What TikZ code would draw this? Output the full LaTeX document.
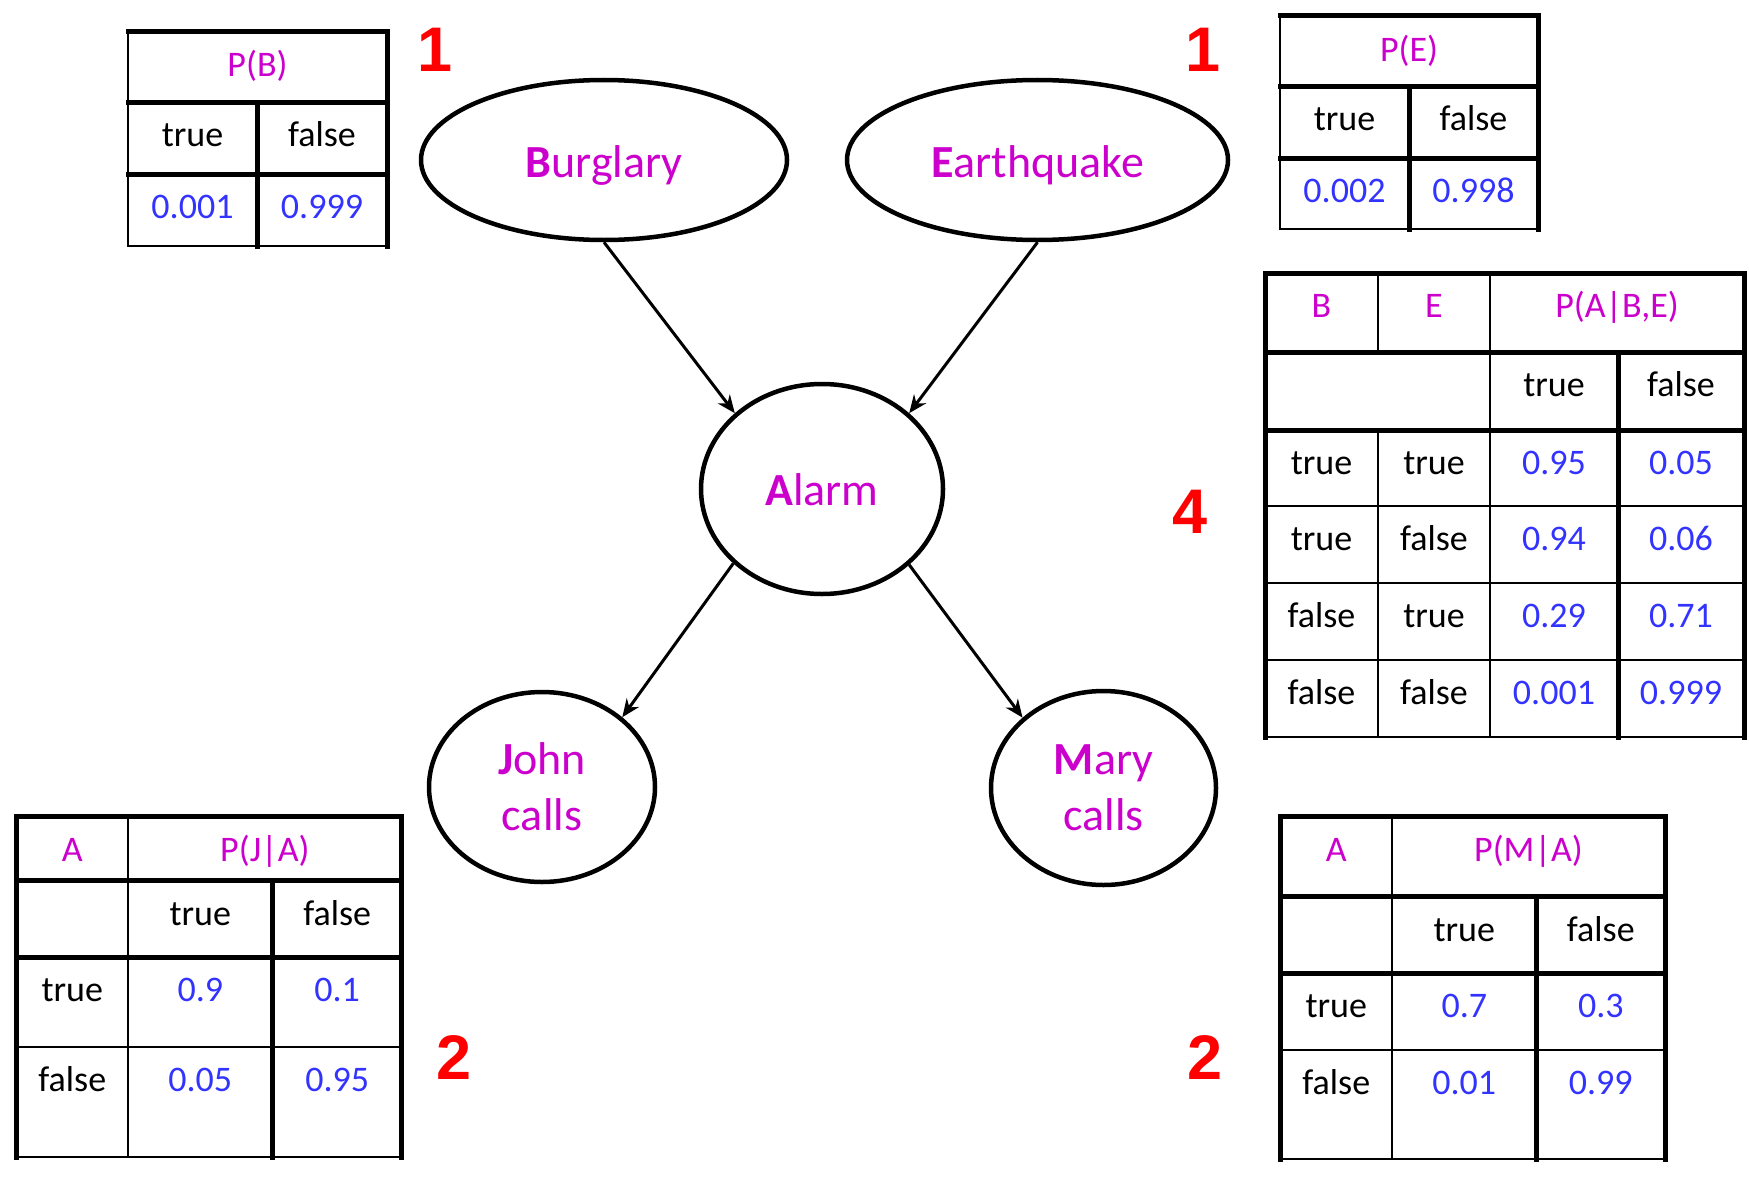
\documentclass[tikz,border=0pt]{standalone}
\usepackage{fontspec}
\setmainfont{Carlito}
\newfontfamily\numfamily{Liberation Sans}
\usetikzlibrary{shapes.geometric,arrows.meta}
\definecolor{varmag}{RGB}{204,0,204}
\definecolor{valblue}{RGB}{51,51,255}
\begin{document}
\begin{tikzpicture}[x=0.5pt,y=-0.5pt,
  heavy/.style={line width=2.5pt,line cap=rect},
  light/.style={line width=1pt},
  var/.style={draw,ellipse,line width=2.25pt,inner sep=0pt,text=varmag,align=center,font=\fontsize{23}{28}\selectfont},
  link/.style={-{Stealth[length=9pt,width=7.5pt]},line width=1.5pt},
  cell/.style={anchor=base,inner sep=0pt,font=\fontsize{18}{22}\selectfont},
  head/.style={cell,text=varmag},
  val/.style={cell,text=valblue},
  nparam/.style={text=red,inner sep=0pt,font=\numfamily\bfseries\fontsize{31.5}{36}\selectfont}]
\useasboundingbox (0,0) rectangle (1749,1177);
% network
\node[var,minimum width=183pt,minimum height=80pt,text height=17pt,text depth=0pt] (burglary) at (604,160) {\textbf{B}urglary};
\node[var,minimum width=190.5pt,minimum height=80pt,text height=17pt,text depth=0pt] (earthquake) at (1037.5,160) {\textbf{E}arthquake};
\node[var,minimum width=121pt,minimum height=105pt,text height=16pt,text depth=0pt] (alarm) at (822,489) {\textbf{A}larm};
\node[var,minimum width=113pt,minimum height=95pt] (john) at (542,787) {\textbf{J}ohn\\calls};
\node[var,minimum width=112.5pt,minimum height=97pt] (mary) at (1103.5,788) {\textbf{M}ary\\calls};
\draw[link] (burglary.south) -- (alarm.139);
\draw[link] (earthquake.south) -- (alarm.41);
\draw[link] (alarm.220) -- (john.41);
\draw[link] (alarm.319) -- (mary.139);
% P(B)
\draw[light] (128,32) rectangle (387,246);
\draw[heavy] (128,32) -- (387,32) -- (387,246);
\draw[heavy] (128,103) -- (387,103) (128,174) -- (387,174) (257,103) -- (257,246);
\node[head] (pb-h) at (257.5,77) {P(B)};
\node[cell] (pb-t) at (192.5,147) {true};
\node[cell] (pb-f) at (322,147) {false};
\node[val] (pb-vt) at (192.5,218) {0.001};
\node[val] (pb-vf) at (322,218) {0.999};
\node[nparam] (pb-n) at (435,50) {1};
% P(E)
\draw[light] (1280,16) rectangle (1538,229);
\draw[heavy] (1280,16) -- (1538,16) -- (1538,229);
\draw[heavy] (1280,87) -- (1538,87) (1280,158) -- (1538,158) (1409,87) -- (1409,229);
\node[head] (pe-h) at (1409,62) {P(E)};
\node[cell] (pe-t) at (1344.5,131) {true};
\node[cell] (pe-f) at (1473.5,131) {false};
\node[val] (pe-vt) at (1344.5,202) {0.002};
\node[val] (pe-vf) at (1473.5,202) {0.998};
\node[nparam] (pe-n) at (1203,50) {1};
% P(A|B,E)
\draw[light] (1265,273) rectangle (1744,737);
\draw[heavy] (1265,737) -- (1265,273) -- (1744,273) -- (1744,737);
\draw[heavy] (1265,352) -- (1744,352) (1265,430) -- (1744,430) (1618,352) -- (1618,737);
\draw[light] (1378,273) -- (1378,352) (1378,430) -- (1378,737) (1490,273) -- (1490,737);
\foreach \y in {506,583,660} \draw[light] (1265,\y) -- (1744,\y);
\node[head] (pa-hb) at (1321.5,317) {B};
\node[head] (pa-he) at (1434,317) {E};
\node[head] (pa-h) at (1617,317) {P(A|B,E)};
\node[cell] (pa-t) at (1554,396) {true};
\node[cell] (pa-f) at (1681,396) {false};
\foreach \b/\e/\pt/\pf [count=\i] in {true/true/0.95/0.05,true/false/0.94/0.06,false/true/0.29/0.71,false/false/0.001/0.999}{
  \node[cell] (pa-b\i) at (1321.5,{474+76.7*(\i-1)}) {\b};
  \node[cell] (pa-e\i) at (1434,{474+76.7*(\i-1)}) {\e};
  \node[val] (pa-vt\i) at (1554,{474+76.7*(\i-1)}) {\pt};
  \node[val] (pa-vf\i) at (1681,{474+76.7*(\i-1)}) {\pf};
}
\node[nparam] (pa-n) at (1190,512) {4};
% P(J|A)
\draw[light] (16.7,816.7) rectangle (401.7,1157);
\draw[heavy] (16.7,1157) -- (16.7,816.7) -- (401.7,816.7) -- (401.7,1157);
\draw[heavy] (16.7,880) -- (401.7,880) (16.7,957) -- (401.7,957) (272.7,880) -- (272.7,1157);
\draw[light] (128,816.7) -- (128,1157) (16.7,1047) -- (401.7,1047);
\node[head] (pj-ha) at (72.3,861) {A};
\node[head] (pj-h) at (264.9,861) {P(J|A)};
\node[cell] (pj-t) at (200.3,925) {true};
\node[cell] (pj-f) at (337.2,925) {false};
\node[cell] (pj-a1) at (72.3,1001) {true};
\node[val] (pj-vt1) at (200.3,1001) {0.9};
\node[val] (pj-vf1) at (337.2,1001) {0.1};
\node[cell] (pj-a2) at (72.3,1091) {false};
\node[val] (pj-vt2) at (200.3,1091) {0.05};
\node[val] (pj-vf2) at (337.2,1091) {0.95};
\node[nparam] (pj-n) at (454,1057) {2};
% P(M|A)
\draw[light] (1280.7,816.7) rectangle (1665,1159);
\draw[heavy] (1280.7,1159) -- (1280.7,816.7) -- (1665,816.7) -- (1665,1159);
\draw[heavy] (1280.7,896.7) -- (1665,896.7) (1280.7,973) -- (1665,973) (1536.7,896.7) -- (1536.7,1159);
\draw[light] (1392,816.7) -- (1392,1159) (1280.7,1050) -- (1665,1050);
\node[head] (pm-ha) at (1336.3,861) {A};
\node[head] (pm-h) at (1528.5,861) {P(M|A)};
\node[cell] (pm-t) at (1464.3,941) {true};
\node[cell] (pm-f) at (1600.8,941) {false};
\node[cell] (pm-a1) at (1336.3,1017) {true};
\node[val] (pm-vt1) at (1464.3,1017) {0.7};
\node[val] (pm-vf1) at (1600.8,1017) {0.3};
\node[cell] (pm-a2) at (1336.3,1094) {false};
\node[val] (pm-vt2) at (1464.3,1094) {0.01};
\node[val] (pm-vf2) at (1600.8,1094) {0.99};
\node[nparam] (pm-n) at (1205,1057) {2};
\end{tikzpicture}
\end{document}
